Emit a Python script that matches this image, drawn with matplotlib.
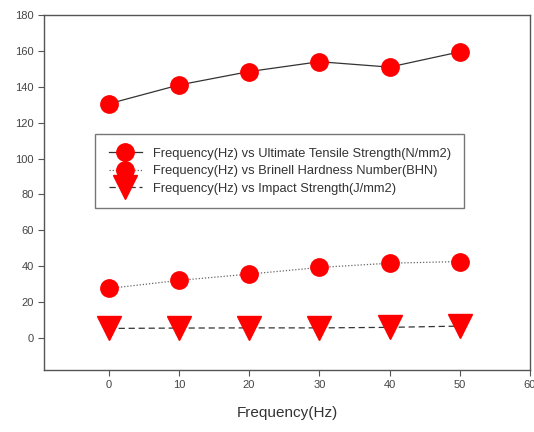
import matplotlib
matplotlib.use("Agg")
import matplotlib.pyplot as plt

freq = [0, 10, 20, 30, 40, 50]
uts = [130.5, 141, 148.5, 154, 151, 159.5]
bhn = [27.5, 32, 35.5, 39.2, 41.6, 42.5]
impact = [5.2, 5.4, 5.5, 5.5, 5.8, 6.5]

labels = [
    "Frequency(Hz) vs Ultimate Tensile Strength(N/mm2)",
    "Frequency(Hz) vs Brinell Hardness Number(BHN)",
    "Frequency(Hz) vs Impact Strength(J/mm2)",
]

plt.rcParams["font.family"] = ["Liberation Sans", "DejaVu Sans"]

fig = plt.figure(figsize=(5.34, 4.32), dpi=100)
ax = fig.add_axes([0.0824, 0.1435, 0.9101, 0.8215])

ax.plot(freq, uts, color="#333333", lw=0.9, ls="-", marker="o",
        ms=12.5, mfc="red", mec="red", label=labels[0])
ax.plot(freq, bhn, color="#666666", lw=0.9, ls=(0, (1, 1.5)), marker="o",
        ms=12.5, mfc="red", mec="red", label=labels[1])
ax.plot(freq, impact, color="#333333", lw=0.9, ls=(0, (5, 3)), marker="v",
        ms=17, mfc="red", mec="red", label=labels[2])

ax.set_xlim(-9.2, 60)
ax.set_ylim(-18, 180)
ax.set_xticks(range(0, 61, 10))
ax.set_yticks(range(0, 181, 20))
ax.tick_params(direction="out", length=4, width=0.8, colors="#555555",
               labelcolor="#444444", labelsize=8)
for s in ax.spines.values():
    s.set_color("#555555")
    s.set_linewidth(1.0)

ax.set_xlabel("Frequency(Hz)", fontsize=11, color="#333333", labelpad=11)

leg = ax.legend(loc="upper left", bbox_to_anchor=(0.105, 0.665),
                fontsize=9.3, frameon=True, fancybox=False, borderpad=1.05,
                handlelength=2.6, handletextpad=0.8, labelspacing=0.42,
                borderaxespad=0, markerscale=1.0)
leg.get_frame().set_edgecolor("#555555")
leg.get_frame().set_linewidth(1.0)
for t in leg.get_texts():
    t.set_color("#333333")

fig.savefig("out.png", dpi=100)
